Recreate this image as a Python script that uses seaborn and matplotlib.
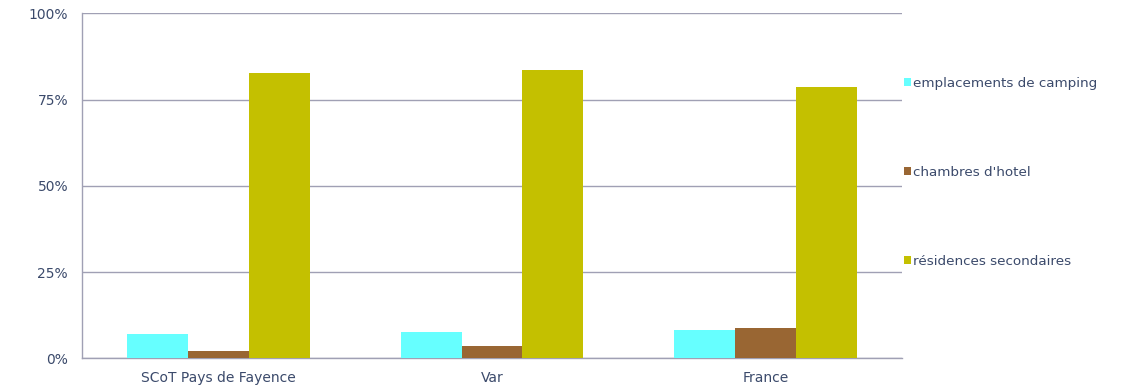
import pandas as pd
import seaborn as sns
import matplotlib.pyplot as plt
from matplotlib.ticker import PercentFormatter

zones = ['SCoT Pays de Fayence', 'Var', 'France']
series = ['emplacements de camping', "chambres d'hotel", 'résidences secondaires']
camping = [7.0, 7.6, 8.2]
hotel = [2.0, 3.6, 8.8]
residences = [82.7, 83.6, 78.6]
colors = ['#66FFFF', '#996633', '#C4C000']

sns.set_theme(style='white')
plt.rcParams['font.family'] = ['DejaVu Sans']

text_color = '#3B4A6B'
grid_color = '#A0A0B4'


def build_frame():
    rows = []
    for values, name in zip([camping, hotel, residences], series):
        for zone, v in zip(zones, values):
            rows.append({'zone': zone, 'serie': name, 'valeur': v})
    return pd.DataFrame(rows)


def main():
    data = build_frame()
    fig = plt.figure(figsize=(11.32, 3.91), dpi=100)
    ax = fig.add_axes([0.0724, 0.0836, 0.7244, 0.8819])
    sns.barplot(data=data, x='zone', y='valeur', hue='serie', order=zones,
                hue_order=series, palette=colors, width=0.668, ax=ax,
                saturation=1, edgecolor='none', linewidth=0, zorder=3)
    ax.set_ylim(0, 100)
    ax.set_xlim(-0.5, 2.5)
    ax.set_yticks([0, 25, 50, 75, 100])
    ax.yaxis.set_major_formatter(PercentFormatter(decimals=0))
    ax.yaxis.grid(True, color=grid_color, linewidth=1, zorder=0)
    ax.set_axisbelow(True)
    ax.set_xlabel('')
    ax.set_ylabel('')
    for side in ['top', 'right']:
        ax.spines[side].set_visible(False)
    for side in ['left', 'bottom']:
        ax.spines[side].set_color(grid_color)
        ax.spines[side].set_linewidth(1)
    ax.tick_params(axis='both', colors=text_color, labelsize=10, length=0)
    ax.tick_params(axis='y', pad=10)
    ax.tick_params(axis='x', pad=9)

    handles, labels = ax.get_legend_handles_labels()
    ax.legend(handles, labels, loc='upper left', bbox_to_anchor=(0.9955, 0.832),
              frameon=False, fontsize=9.7, labelcolor=text_color,
              handlelength=0.55, handleheight=0.55, handletextpad=0.15,
              labelspacing=5.65, borderaxespad=0)

    fig.savefig('out.png', dpi=100)


if __name__ == '__main__':
    main()
